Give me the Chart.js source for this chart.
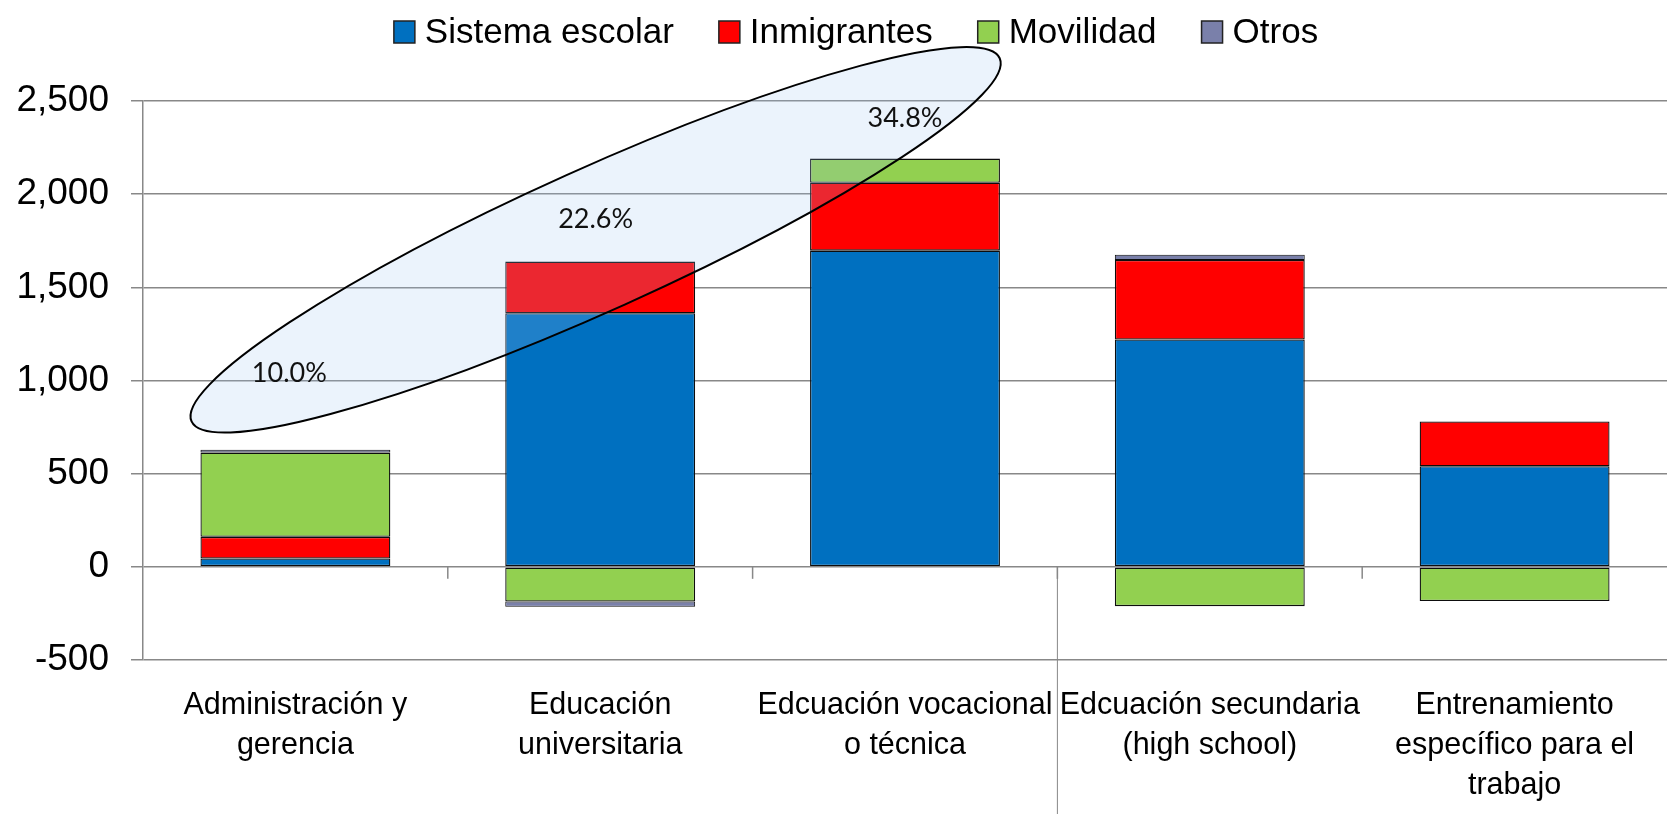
<!DOCTYPE html>
<html>
<head>
<meta charset="utf-8">
<script src="https://cdn.jsdelivr.net/npm/chart.js@4/dist/chart.umd.min.js"></script>
<style>
  html, body { margin: 0; padding: 0; background: #fff; }
  #wrap { width: 1672px; height: 814px; }
</style>
</head>
<body>
<div id="wrap"><canvas id="myChart" width="1672" height="814"></canvas></div>
<script>
// ---- data ----
const categories = [
    ['Administración y', 'gerencia'],
    ['Educación', 'universitaria'],
    ['Edcuación vocacional', 'o técnica'],
    ['Edcuación secundaria', '(high school)'],
    ['Entrenamiento', 'específico para el', 'trabajo']
];
const seriesNames = ['Sistema escolar', 'Inmigrantes', 'Movilidad', 'Otros'];
const sistemaEscolar = [45, 1361, 1697, 1220, 540];
const inmigrantes = [116, 277, 364, 427, 240];
const movilidad = [452, -186, 130, -211, -184];
const otros = [16, -28, 0, 28, 0];
const seriesColors = ['#0070C0', '#FF0000', '#92D050', '#7A80AA'];

// percentage call-outs inside the ellipse
const pctLabels = ['10.0%', '22.6%', '34.8%'];
const pctAt = [[-0.02, 1036], [0.985, 1866], [2.0, 2407]];
// ellipse annotation: centre in (category, value), radii in px
const ellipse = { x: 0.985, y: 1755, rx: 443, ry: 71, angle: -24.2 };

const yTicks = { min: -500, max: 2500, step: 500 };


/********** PLUGINS **********/

// Excel-like decorations: ellipse, % labels, axis tick marks at zero, custom legend
const decorations = {
    id: 'decorations',
    beforeDatasetsDraw(chart) {
        const { ctx, scales: { x, y } } = chart;
        const y0 = y.getPixelForValue(0);
        ctx.save();
        ctx.strokeStyle = '#888888';
        ctx.lineWidth = 1.5;
        for (let i = 0; i < categories.length - 1; i++) {
            const px = x.getPixelForValue(i + 0.5);
            ctx.beginPath();
            ctx.moveTo(px, y0);
            ctx.lineTo(px, y0 + 12);
            ctx.stroke();
        }
        // stray separator running to the bottom edge
        const sx = x.getPixelForValue(2.5);
        ctx.lineWidth = 1;
        ctx.beginPath();
        ctx.moveTo(sx, y0);
        ctx.lineTo(sx, chart.height);
        ctx.stroke();
        ctx.restore();
    },
    afterDatasetsDraw(chart) {
        const { ctx, scales: { x, y } } = chart;
        ctx.save();
        ctx.beginPath();
        ctx.ellipse(x.getPixelForValue(ellipse.x), y.getPixelForValue(ellipse.y),
            ellipse.rx, ellipse.ry, ellipse.angle * Math.PI / 180, 0, Math.PI * 2);
        ctx.fillStyle = 'rgba(155, 195, 240, 0.2)';
        ctx.fill();
        ctx.strokeStyle = '#000';
        ctx.lineWidth = 2;
        ctx.stroke();

        ctx.fillStyle = '#111';
        ctx.font = '27px Lato';
        ctx.textAlign = 'center';
        ctx.textBaseline = 'middle';
        pctLabels.forEach((t, i) => {
            ctx.fillText(t, x.getPixelForValue(pctAt[i][0]), y.getPixelForValue(pctAt[i][1]));
        });
        ctx.restore();
    },
    afterDraw(chart) {
        const { ctx } = chart;
        const sets = chart.data.datasets;
        ctx.save();
        ctx.font = '35px "Liberation Sans"';
        const box = 21, gap = 10, after = 45;
        const widths = sets.map(d => ctx.measureText(d.label).width);
        const total = widths.reduce((a, w) => a + box + gap + w, 0) + after * (sets.length - 1);
        let cx = chart.width / 2 + 20 - total / 2;
        const cy = 32;
        ctx.textBaseline = 'middle';
        ctx.textAlign = 'left';
        sets.forEach((d, i) => {
            ctx.fillStyle = d.backgroundColor;
            ctx.fillRect(cx, cy - 11, box, 22);
            ctx.strokeStyle = '#222';
            ctx.lineWidth = 1.5;
            ctx.strokeRect(cx, cy - 11, box, 22);
            ctx.fillStyle = '#000';
            ctx.fillText(d.label, cx + box + gap, cy + 1);
            cx += box + gap + widths[i] + after;
        });
        ctx.restore();
    }
};


/********** CHART **********/

const seriesValues = [sistemaEscolar, inmigrantes, movilidad, otros];

const ctx = document.getElementById('myChart').getContext('2d');
const myChart = new Chart(ctx, {
    type: 'bar',
    data: {
        labels: categories,
        datasets: seriesNames.map((name, i) => ({
            label: name,
            data: seriesValues[i],
            backgroundColor: seriesColors[i],
            borderColor: '#0d0d0d',
            borderWidth: i === 3 ? 1 : 1.3,
            borderSkipped: false,
            categoryPercentage: 1,
            barPercentage: 0.623
        }))
    },
    options: {
        responsive: false,
        animation: false,
        layout: { padding: { top: 101, right: 5, left: 0, bottom: 0 } },
        plugins: {
            legend: { display: false },
            tooltip: { enabled: false }
        },
        scales: {
            x: {
                stacked: true,
                grid: { display: false, drawTicks: false },
                border: { display: false },
                ticks: {
                    color: '#000',
                    font: { family: 'Liberation Sans', size: 30.5, lineHeight: 1.31 },
                    padding: 26,
                    maxRotation: 0,
                    autoSkip: false
                },
                afterFit(s) { s.height = 154; }
            },
            y: {
                stacked: true,
                min: yTicks.min,
                max: yTicks.max,
                grid: { color: '#888888', lineWidth: 1.5, tickLength: 12 },
                border: { color: '#888888', width: 1.5 },
                ticks: {
                    stepSize: yTicks.step,
                    color: '#000',
                    padding: 22,
                    font: { family: 'Liberation Sans', size: 37 },
                    callback: v => v.toLocaleString('en-US')
                },
                afterFit(s) { s.width = 143; }
            }
        }
    },
    plugins: [decorations]
});
</script>
</body>
</html>
